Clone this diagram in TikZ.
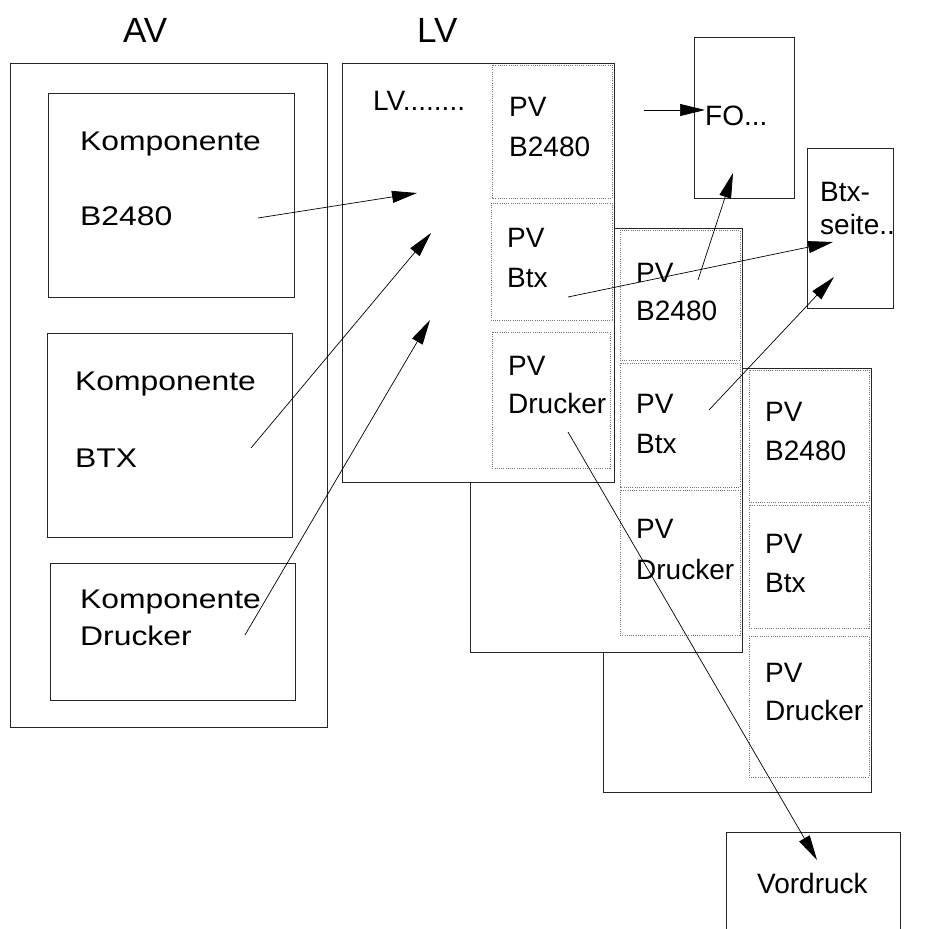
\documentclass[tikz,border=0pt]{standalone}
\usepackage{fontspec}
\setmainfont{Liberation Sans}
\newfontfamily\breit[FakeStretch=1.18]{Liberation Sans}
\usetikzlibrary{arrows.meta}
\tikzset{
	rahmen/.style={draw=black!85,line width=0.8pt,fill=white},
	zelle/.style={draw=black!55,line width=0.7pt,dash pattern=on 1pt off 1.2pt},
	txt/.style={anchor=base west,inner sep=0pt,font=\fontsize{28}{30}\selectfont},
	ktxt/.style={anchor=base west,inner sep=0pt,font=\breit\fontsize{27}{30}\selectfont},
	titel/.style={anchor=base west,inner sep=0pt,font=\fontsize{35}{40}\selectfont},
	pfeil/.style={line width=0.7pt,-{Triangle[length=25pt,width=12pt]}}
}
\begin{document}
\begin{tikzpicture}[x=1pt,y=-1pt]
				\useasboundingbox (0,0) rectangle (924,929);
				% AV
				\node[titel] (av) at (123,42) {AV};
				\draw[rahmen] (10,63) rectangle (327,727);
				\draw[rahmen] (48,93) rectangle (294,297);
				\draw[rahmen] (47,333) rectangle (292,537);
				\draw[rahmen] (50,563) rectangle (295,700);
				\node[ktxt] (kb1) at (80,150) {Komponente};
				\node[ktxt] (kb2) at (80,225) {B2480};
				\node[ktxt] (kx1) at (75,390) {Komponente};
				\node[ktxt] (kx2) at (75,467) {BTX};
				\node[ktxt] (kd1) at (80,608) {Komponente};
				\node[ktxt] (kd2) at (80,645) {Drucker};
				% hinterer Stapel
				\draw[rahmen] (603,368) rectangle (871,792);
				\draw[zelle] (749,370) rectangle (869,502);
				\draw[zelle] (749,505) rectangle (869,628);
				\draw[zelle] (749,636) rectangle (869,777);
				\node[txt] (p3a) at (765,421) {PV};
				\node[txt] (p3b) at (765,460) {B2480};
				\node[txt] (p3c) at (765,553) {PV};
				\node[txt] (p3d) at (765,592) {Btx};
				\node[txt] (p3e) at (765,682) {PV};
				\node[txt] (p3f) at (765,720) {Drucker};
				% mittlerer Stapel
				\draw[rahmen] (470,228) rectangle (742,652);
				\draw[zelle] (620,230) rectangle (740,360);
				\draw[zelle] (620,363) rectangle (740,487);
				\draw[zelle] (620,490) rectangle (740,635);
				\node[txt] (p2a) at (636,282) {PV};
				\node[txt] (p2b) at (636,320) {B2480};
				\node[txt] (p2c) at (636,413) {PV};
				\node[txt] (p2d) at (636,453) {Btx};
				\node[txt] (p2e) at (636,538) {PV};
				\node[txt] (p2f) at (636,579) {Drucker};
				% LV
				\node[titel] (lv) at (417,42) {LV};
				\draw[rahmen] (342,63) rectangle (614,482);
				\draw[zelle] (492,65) rectangle (612,198);
				\draw[zelle] (491,203) rectangle (612,320);
				\draw[zelle] (492,332) rectangle (610,468);
				\node[txt] (lvp) at (373,110) {LV........};
				\node[txt] (p1a) at (509,116) {PV};
				\node[txt] (p1b) at (509,156) {B2480};
				\node[txt] (p1c) at (507,247) {PV};
				\node[txt] (p1d) at (507,287) {Btx};
				\node[txt] (p1e) at (508,375) {PV};
				\node[txt] (p1f) at (508,413) {Drucker};
				% Ziele
				\draw[rahmen] (694,37) rectangle (794,198);
				\node[txt] (fo) at (705,125) {FO...};
				\draw[rahmen] (807,148) rectangle (893,308);
				\node[txt] (bs1) at (820,201) {Btx-};
				\node[txt] (bs2) at (820,234) {seite..};
				\draw[rahmen] (726,832) rectangle (900,945);
				\node[txt] (vd) at (757,893) {Vordruck};
				% Pfeile
				\coordinate (s1) at (258,218); \coordinate (e1) at (417,193);
				\coordinate (s2) at (251,448); \coordinate (e2) at (431,233);
				\coordinate (s3) at (245,635); \coordinate (e3) at (430,320);
				\coordinate (s4) at (568,297); \coordinate (e4) at (833,242);
				\coordinate (s5) at (644,110); \coordinate (e5) at (705,110);
				\coordinate (s6) at (698,280); \coordinate (e6) at (733,173);
				\coordinate (s7) at (709,410); \coordinate (e7) at (834,277);
				\coordinate (s8) at (568,432); \coordinate (e8) at (817,860);
				\foreach \i in {1,...,8}{
					\draw[pfeil] (s\i) -- (e\i);
				}
\end{tikzpicture}
\end{document}
